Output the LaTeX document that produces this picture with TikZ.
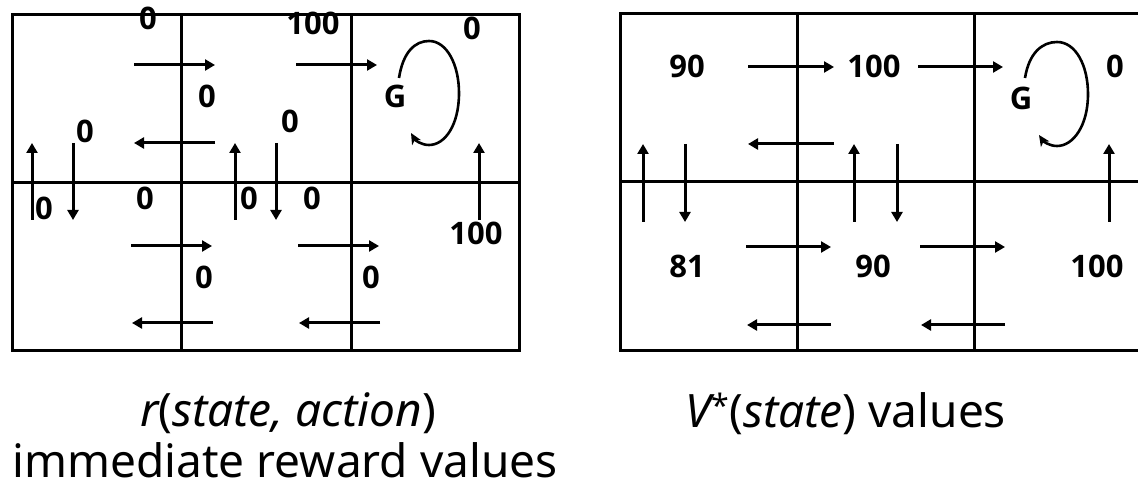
\documentclass[tikz,border=0pt]{standalone}
\usepackage{fontspec}
\setmainfont{Noto Sans}
\newfontfamily\lblfont{Open Sans}
\usetikzlibrary{arrows.meta}
\begin{document}
\begin{tikzpicture}[x=1pt,y=-1pt,
  gridline/.style={line width=3pt},
  arr/.style={line width=3pt,-{Triangle[length=10pt,width=11pt]}},
  selfloop/.style={line width=2.6pt,-{Stealth[length=11pt,width=10pt,inset=3pt]}},
  lbl/.style={font=\lblfont\fontsize{31}{31}\selectfont\bfseries, inner sep=0pt},
  captext/.style={font=\fontsize{46}{53}\selectfont, inner sep=0pt, anchor=base, text depth=0pt}]
\useasboundingbox (0,0) rectangle (1138,486);
\clip (0,0) rectangle (1138,486);
% ---------------- left grid ----------------
\draw[gridline] (12,15) rectangle (519,350);
\draw[gridline] (181,15) -- (181,350);
\draw[gridline] (351,15) -- (351,350);
\draw[gridline] (12,183) -- (519,183);
% labels
\node[lbl] (l1) at (148,18) {0};
\node[lbl] (l2) at (313,23) {100};
\node[lbl] (l3) at (472,28) {0};
\node[lbl] (l4) at (207,96) {0};
\node[lbl] (lg) at (395,96) {G};
\node[lbl] (l5) at (85,131) {0};
\node[lbl] (l6) at (290,121) {0};
\node[lbl] (l7) at (44,208) {0};
\node[lbl] (l8) at (145,198) {0};
\node[lbl] (l9) at (249,198) {0};
\node[lbl] (l10) at (312,198) {0};
\node[lbl] (l11) at (476,233) {100};
\node[lbl] (l12) at (204,277) {0};
\node[lbl] (l13) at (371,277) {0};
% arrows
\draw[arr] (134,65) -- (215,65);
\draw[arr] (296,65) -- (377,65);
\draw[arr] (215,143) -- (134,143);
\draw[arr] (32,220) -- (32,143);
\draw[arr] (73,143) -- (73,220);
\draw[arr] (235,220) -- (235,143);
\draw[arr] (276,143) -- (276,220);
\draw[arr] (479,220) -- (479,143);
\draw[arr] (131,246) -- (212,246);
\draw[arr] (298,246) -- (379,246);
\draw[arr] (213,323) -- (132,323);
\draw[arr] (380,323) -- (299,323);
\draw[selfloop] (399,78) .. controls (403,52) and (415,41) .. (429,41)
  .. controls (447,41) and (459,65) .. (459,93)
  .. controls (459,125) and (445,145) .. (429,145)
  .. controls (421,145) and (415,140) .. (411,133);
% ---------------- right grid ----------------
\draw[gridline] (620,14) rectangle (1152,350);
\draw[gridline] (797,14) -- (797,350);
\draw[gridline] (974,14) -- (974,350);
\draw[gridline] (620,182) -- (1152,182);
\node[lbl] (r1) at (687,66) {90};
\node[lbl] (r2) at (874,66) {100};
\node[lbl] (rg) at (1021,98) {G};
\node[lbl] (r3) at (1115,66) {0};
\node[lbl] (r4) at (687,266) {81};
\node[lbl] (r5) at (873,266) {90};
\node[lbl] (r6) at (1097,266) {100};
\draw[arr] (748,67) -- (834,67);
\draw[arr] (918,67) -- (1003,67);
\draw[arr] (834,144) -- (748,144);
\draw[arr] (643,222) -- (643,144);
\draw[arr] (685,144) -- (685,222);
\draw[arr] (854,222) -- (854,144);
\draw[arr] (897,144) -- (897,222);
\draw[arr] (1109,222) -- (1109,144);
\draw[arr] (746,247) -- (831,247);
\draw[arr] (920,247) -- (1005,247);
\draw[arr] (831,325) -- (747,325);
\draw[arr] (1005,325) -- (921,325);
\draw[selfloop] (1025,78) .. controls (1029,53) and (1042,42) .. (1057,42)
  .. controls (1076,42) and (1088,66) .. (1088,94)
  .. controls (1088,126) and (1073,146) .. (1057,146)
  .. controls (1049,146) and (1043,141) .. (1039,135);
% ---------------- captions ----------------
\node[captext] (c1) at (288,426) {\itshape r\upshape(\itshape state, action\upshape)};
\node[captext] (c2) at (285,477) {immediate reward values};
\node[captext] (c3) at (846,427) {\itshape V\upshape\textsuperscript{*}(\itshape state\upshape) values};
\end{tikzpicture}
\end{document}
